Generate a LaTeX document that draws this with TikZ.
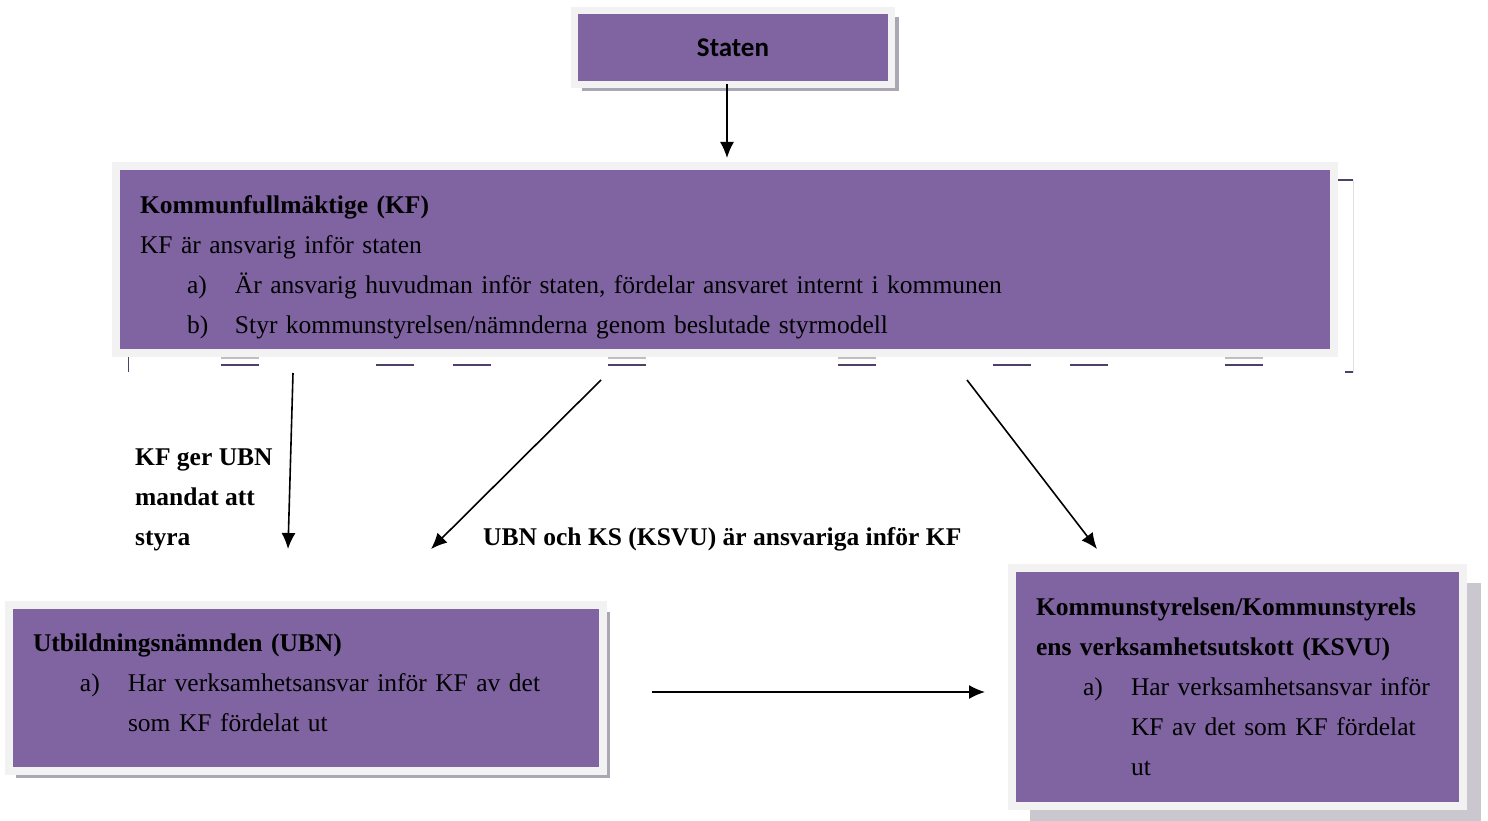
\documentclass[tikz,border=0pt]{standalone}
\usepackage{fontspec}
\setmainfont{Liberation Serif}
\newfontfamily\calibrifont{Carlito}
\usetikzlibrary{arrows.meta,shadows}
\definecolor{boxpurple}{HTML}{8064A2}
\definecolor{framegray}{HTML}{F2F2F2}
\definecolor{shadowgray}{HTML}{ABA6B3}
\definecolor{kshadow}{HTML}{CBC7CF}
\definecolor{lineviolet}{HTML}{4F3F6B}
\newcommand{\listitem}[2]{\hspace*{47pt}\makebox[48pt][l]{#1}#2}
\newcommand{\listcont}[1]{\hspace*{95pt}#1}

\begin{document}
\begin{tikzpicture}[x=1pt,y=-1pt]
\tikzset{box/.style = {shape=rectangle,fill=boxpurple,draw=framegray,line width=8pt,inner xsep=24pt,inner ysep=0pt,align=left,font=\fontsize{25.5}{40}\selectfont}}
\tikzset{thinshadow/.style = {drop shadow={shadow xshift=7pt,shadow yshift=-7pt,fill=shadowgray,opacity=1}}}
\tikzset{edge/.style = {->,> = {Latex[length=16pt,width=14pt]},line width=1.6pt}}
\tikzset{edgetext/.style = {align=left,inner sep=0pt,font=\bfseries\fontsize{25.5}{40}\selectfont}}
\useasboundingbox (0,0) rectangle (1488,821);

% vertices
\node[box,thinshadow,line width=7pt,minimum width=317pt,minimum height=74pt,font=\calibrifont\bfseries\fontsize{27}{30}\selectfont] (staten) at (733,47.5) {\raisebox{-2pt}{Staten}};

\node[box,text width=1170pt,minimum width=1218pt,minimum height=187pt] (kf) at (725,259.5)
  {\rule{0pt}{34pt}\textbf{Kommunfullmäktige (KF)}\\
   KF är ansvarig inför staten\\
   \listitem{a)}{Är ansvarig huvudman inför staten, fördelar ansvaret internt i kommunen}\\
   \listitem{b)}{Styr kommunstyrelsen/nämnderna genom beslutade styrmodell}};

\node[box,thinshadow,text width=546pt,minimum width=594pt,minimum height=166pt] (ubn) at (306,688)
  {\textbf{Utbildningsnämnden (UBN)}\\
   \listitem{a)}{Har verksamhetsansvar inför KF av det}\\
   \listcont{som KF fördelat ut}\rule[-10pt]{0pt}{1pt}};

\node[box,drop shadow={shadow xshift=18pt,shadow yshift=-15pt,fill=kshadow,opacity=1},text width=403pt,minimum width=451pt,minimum height=238pt] (ks) at (1237.5,687)
  {\textbf{Kommunstyrelsen/Kommunstyrels}\\
   \textbf{ens verksamhetsutskott (KSVU)}\\
   \listitem{a)}{Har verksamhetsansvar inför}\\
   \listcont{KF av det som KF fördelat}\\
   \listcont{ut}};

% marks under KF
\foreach \x in {221,608,838,1225}
  \draw[gray!50,line width=1.5pt] (\x,358) -- ++(38,0);
\foreach \x in {221,376,453,608,838,993,1070,1225}
  \draw[lineviolet,line width=1.5pt] (\x,365) -- ++(38,0);
\draw[lineviolet,line width=1.2pt] (1338,180) -- (1353,180);
\draw[gray!25] (1353,180) -- (1353,373);
\draw[lineviolet,line width=1.2pt] (1345,372) -- (1353,372);
\draw[lineviolet] (128,357) -- (128,372);

% edge labels
\node[edgetext,anchor=west] (mandat) at (135,500) {KF ger UBN\\ mandat att\\ styra};
\node[edgetext,anchor=west] (ansvar) at (483,539) {UBN och KS (KSVU) är ansvariga inför KF};

% edges
\coordinate (kfA) at (293,373);
\coordinate (ubnA) at (288,549);
\coordinate (kfB) at (601,380);
\coordinate (ubnB) at (431,549);
\coordinate (kfC) at (967,380);
\coordinate (ksC) at (1097,549);
\coordinate (ubnD) at (652,692);
\coordinate (ksD) at (985,692);

\draw[edge] ([xshift=-6pt,yshift=4pt]staten.south) -- ([xshift=-6pt,yshift=4pt]staten.south |- kf.north);
\draw[edge] (kfA) -- (ubnA);
\draw[edge] (kfB) -- (ubnB);
\draw[edge] (kfC) -- (ksC);
\draw[edge] (ubnD) -- (ksD);

\end{tikzpicture}
\end{document}
